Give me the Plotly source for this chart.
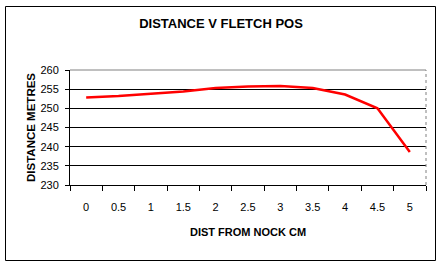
import plotly.graph_objects as go

categories = ["0", "0.5", "1", "1.5", "2", "2.5", "3", "3.5", "4", "4.5", "5"]
distance = [252.8, 253.2, 253.8, 254.4, 255.3, 255.7, 255.8, 255.3, 253.6, 250.0, 238.6]
y_ticks = [230, 235, 240, 245, 250, 255, 260]

W, H = 442, 267
ml, mr, mt, mb = 70, 16, 70, 82
pw, ph = W - ml - mr, H - mt - mb

def px(x):
    return (x - ml) / pw

def py(y):
    return (H - mb - y) / ph

fig = go.Figure()
fig.add_trace(go.Scatter(
    x=categories, y=distance, mode="lines",
    line=dict(color="#ff0000", width=2.5),
    hoverinfo="skip", showlegend=False,
))

font = "Arial, Liberation Sans, sans-serif"
fig.update_layout(
    width=W, height=H,
    margin=dict(l=ml, r=mr, t=mt, b=mb),
    paper_bgcolor="white", plot_bgcolor="white",
    font=dict(family=font, color="black", size=11),
    title=dict(text="<b>DISTANCE V FLETCH POS</b>", x=0.5, xanchor="center",
               y=1 - 23 / H, yanchor="middle", font=dict(size=13, family=font)),
    xaxis=dict(
        type="category", range=[-0.5, 10.5], tickson="boundaries",
        ticks="outside", ticklen=5, tickcolor="black", tickwidth=1,
        showline=True, linecolor="black", linewidth=1,
        showgrid=False, ticklabelstandoff=12,
        tickfont=dict(size=11),
        title=dict(text="<b>DIST FROM NOCK CM</b>", font=dict(size=11), standoff=16),
    ),
    yaxis=dict(
        range=[230, 260], tickvals=y_ticks,
        ticks="outside", ticklen=4, tickcolor="black", tickwidth=1,
        showline=True, linecolor="black", linewidth=1,
        showgrid=True, gridcolor="black", gridwidth=1,
        zeroline=False, ticklabelstandoff=4,
        tickfont=dict(size=11),
        title=dict(text="<b>DISTANCE METRES</b>", font=dict(size=11.5), standoff=2),
    ),
    shapes=[
        dict(type="line", xref="paper", yref="paper", x0=0, x1=1, y0=1, y1=1,
             line=dict(color="#808080", width=1), layer="above"),
        dict(type="line", xref="paper", yref="paper", x0=1, x1=1, y0=0, y1=1,
             line=dict(color="#808080", width=1, dash="dot"), layer="above"),
        dict(type="rect", xref="paper", yref="paper",
             x0=px(5.5), x1=px(435.5), y0=py(260.5), y1=py(6.5),
             line=dict(color="black", width=1), layer="above"),
    ],
)

fig.write_html("out.html")
